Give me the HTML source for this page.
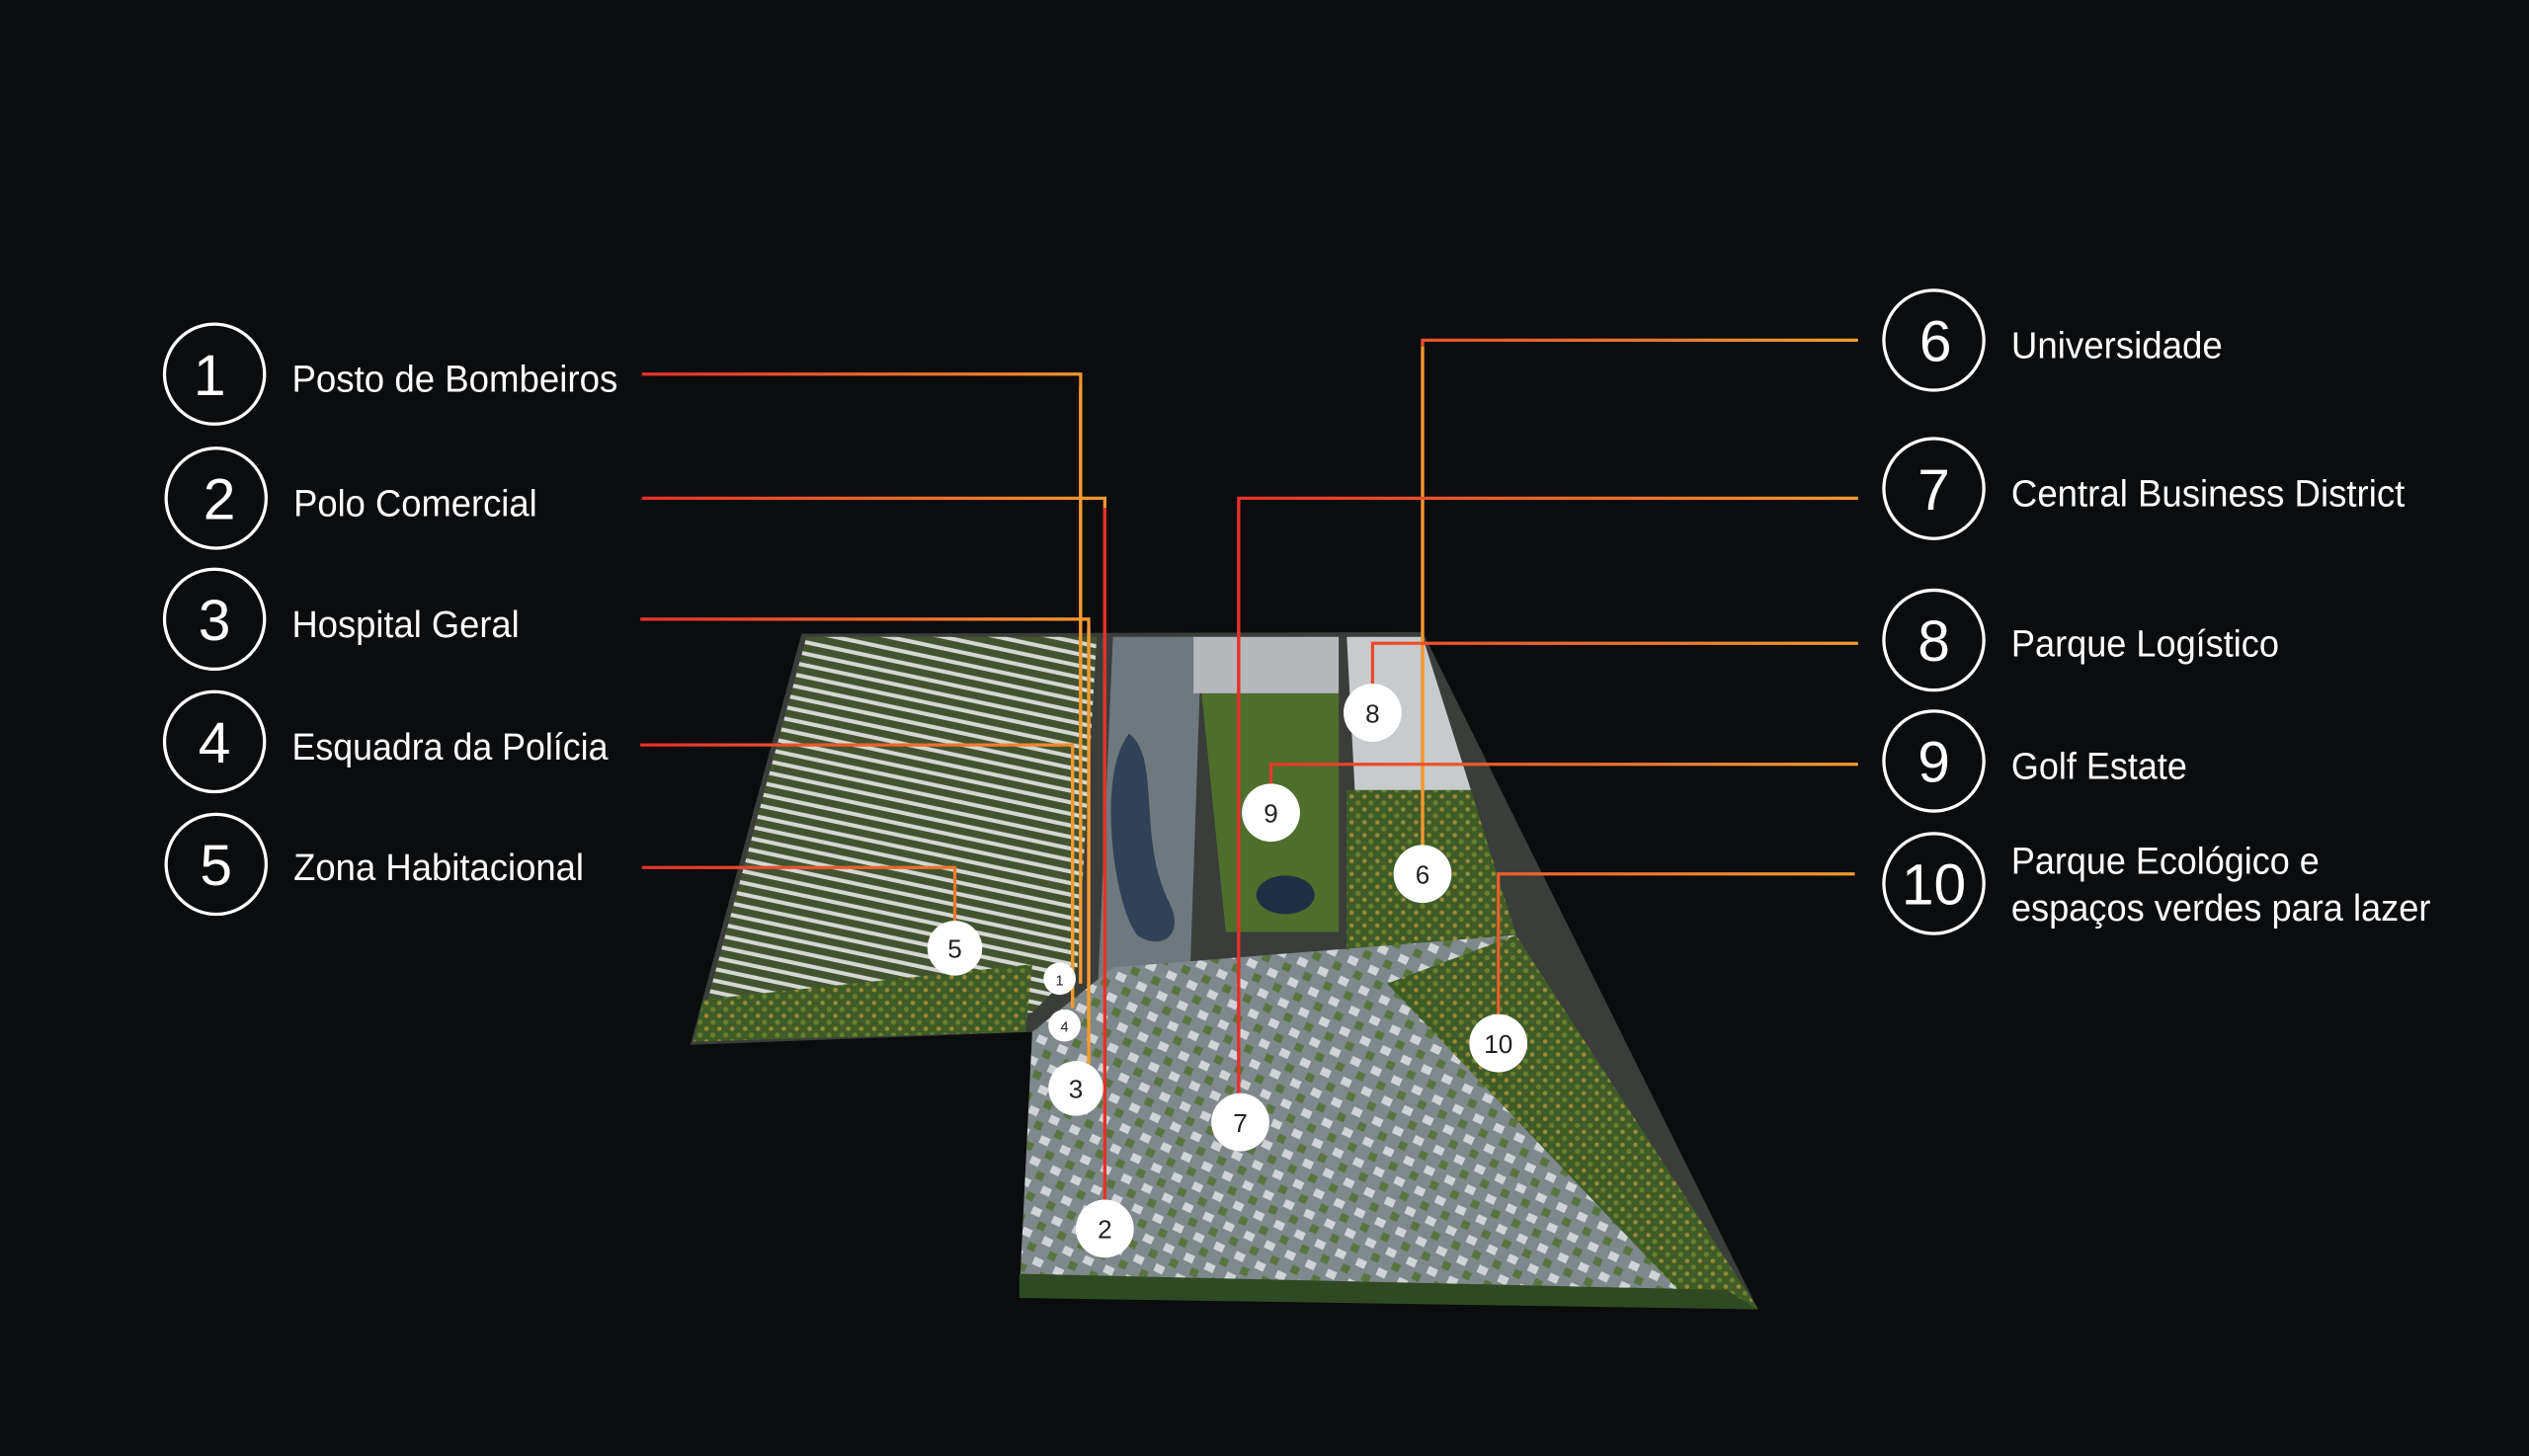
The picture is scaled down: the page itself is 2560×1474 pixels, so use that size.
<!DOCTYPE html>
<html><head><meta charset="utf-8"><style>
html,body{margin:0;padding:0;background:#0b0c0e;}
svg{display:block;}
text{font-family:"Liberation Sans",sans-serif;fill:#fff;}
</style></head><body>
<svg width="2560" height="1474" viewBox="0 0 1568 903" preserveAspectRatio="none" xmlns="http://www.w3.org/2000/svg">
<defs>
<linearGradient id="gl" gradientUnits="userSpaceOnUse" x1="398" y1="0" x2="690" y2="0"><stop offset="0" stop-color="#e5302b"/><stop offset="1" stop-color="#f29b2e"/></linearGradient>
<linearGradient id="gr" gradientUnits="userSpaceOnUse" x1="760" y1="0" x2="1152" y2="0"><stop offset="0" stop-color="#e5302b"/><stop offset="1" stop-color="#f29b2e"/></linearGradient>
<pattern id="res" width="7" height="7" patternUnits="userSpaceOnUse" patternTransform="rotate(-78)"><rect width="7" height="7" fill="#44532f"/><rect width="2.5" height="7" fill="#d5d7d3"/></pattern>
<pattern id="cbd" width="14" height="14" patternUnits="userSpaceOnUse" patternTransform="rotate(25)"><rect width="14" height="14" fill="#7f888c"/><rect x="1" y="1" width="6" height="5" fill="#d0d4d6"/><rect x="8" y="8" width="5" height="5" fill="#5a7440"/></pattern>
<pattern id="tree" width="8" height="8" patternUnits="userSpaceOnUse"><rect width="8" height="8" fill="#3f5c26"/><circle cx="2" cy="2" r="1.6" fill="#6b7f2e"/><circle cx="6" cy="6" r="1.4" fill="#9a8a3a"/></pattern>
</defs>
<polygon points="497,393 882,392 1090,812 632,803 640,640 428,648" fill="#3a3d3a"/>
<polygon points="500,395 680,395 668,600 640,628 432,645" fill="url(#res)"/>
<polygon points="436,620 640,598 636,640 430,646" fill="url(#tree)"/>
<polygon points="690,395 745,395 738,600 680,630" fill="#6f787e"/>
<path d="M700,455 C680,480 690,560 705,580 C720,590 735,580 725,560 C705,520 720,470 700,455Z" fill="#2f4258"/>
<polygon points="745,430 830,430 830,578 760,578" fill="#4e6e2c"/>
<ellipse cx="797" cy="555" rx="18" ry="12" fill="#1e2f45"/>
<polygon points="740,395 830,395 830,430 740,430" fill="#b5b9bb"/>
<polygon points="835,395 882,395 912,490 840,490" fill="#c8cbcd"/>
<polygon points="835,490 912,490 940,580 835,590" fill="url(#tree)"/>
<polygon points="690,600 940,580 880,610 1050,810 632,803 640,640" fill="url(#cbd)"/>
<polygon points="860,610 940,580 1090,812 1050,810" fill="url(#tree)"/>
<polygon points="632,790 1070,800 1090,812 632,805" fill="#2f4a22"/>
<g fill="none" stroke-width="2">
<path d="M398,232H670V610" stroke="url(#gl)"/>
<path d="M398,309H685V745" stroke="url(#gl)"/>
<path d="M397,384H675V660" stroke="url(#gl)"/>
<path d="M397,462H665V625" stroke="url(#gl)"/>
<path d="M398,538H592V575" stroke="url(#gl)"/>
<path d="M670,240V610" stroke="#f29b2e"/>
<path d="M675,390V660" stroke="#f29b2e"/>
<path d="M665,470V625" stroke="#f29b2e"/>
<path d="M685,315V745" stroke="#e5302b"/>
<path d="M1152,211H882V528" stroke="url(#gr)"/>
<path d="M882,215V528" stroke="#f29b2e"/>
<path d="M1152,309H768V680" stroke="url(#gr)"/>
<path d="M768,315V680" stroke="#e5302b"/>
<path d="M1152,399H851V428" stroke="url(#gr)"/>
<path d="M1152,474H788V490" stroke="url(#gr)"/>
<path d="M1150,542H929V632" stroke="url(#gr)"/>
</g>
<g fill="#fff">
<circle cx="592" cy="588" r="17"/><circle cx="657" cy="607" r="10"/><circle cx="660" cy="636" r="10"/>
<circle cx="667" cy="675" r="17"/><circle cx="685" cy="762" r="18"/><circle cx="769" cy="696" r="18"/>
<circle cx="851" cy="442" r="18"/><circle cx="788" cy="504" r="18"/><circle cx="882" cy="542" r="18"/><circle cx="929" cy="647" r="18"/>
</g>
<g style="font-size:16px" text-anchor="middle">
<text x="592" y="594" style="fill:#222">5</text>
<text x="667" y="681" style="fill:#222">3</text>
<text x="685" y="768" style="fill:#222">2</text>
<text x="769" y="702" style="fill:#222">7</text>
<text x="851" y="448" style="fill:#222">8</text>
<text x="788" y="510" style="fill:#222">9</text>
<text x="882" y="548" style="fill:#222">6</text>
<text x="929" y="653" style="fill:#222">10</text>
<text x="657" y="611" style="fill:#222;font-size:9px">1</text>
<text x="660" y="640" style="fill:#222;font-size:9px">4</text>
</g>
<g fill="none" stroke="#fff" stroke-width="2">
<circle cx="133" cy="232" r="31"/><circle cx="134" cy="309" r="31"/><circle cx="133" cy="384" r="31"/><circle cx="133" cy="460" r="31"/><circle cx="134" cy="536" r="31"/>
<circle cx="1199" cy="211" r="31"/><circle cx="1199" cy="303" r="31"/><circle cx="1199" cy="397" r="31"/><circle cx="1199" cy="472" r="31"/><circle cx="1199" cy="548" r="31"/>
</g>
<g style="font-size:36px" text-anchor="middle">
<text x="130" y="245">1</text><text x="136" y="322">2</text><text x="133" y="397">3</text><text x="133" y="473">4</text><text x="134" y="549">5</text>
<text x="1200" y="224">6</text><text x="1199" y="316">7</text><text x="1199" y="410">8</text><text x="1199" y="485">9</text><text x="1199" y="561">10</text>
</g>
<g style="font-size:23px" lengthAdjust="spacingAndGlyphs">
<text x="181" y="243" textLength="202" lengthAdjust="spacingAndGlyphs">Posto de Bombeiros</text>
<text x="182" y="320" textLength="151" lengthAdjust="spacingAndGlyphs">Polo Comercial</text>
<text x="181" y="395" textLength="141" lengthAdjust="spacingAndGlyphs">Hospital Geral</text>
<text x="181" y="471" textLength="196" lengthAdjust="spacingAndGlyphs">Esquadra da Polícia</text>
<text x="182" y="546" textLength="180" lengthAdjust="spacingAndGlyphs">Zona Habitacional</text>
<text x="1247" y="222" textLength="131" lengthAdjust="spacingAndGlyphs">Universidade</text>
<text x="1247" y="314" textLength="244" lengthAdjust="spacingAndGlyphs">Central Business District</text>
<text x="1247" y="407" textLength="166" lengthAdjust="spacingAndGlyphs">Parque Logístico</text>
<text x="1247" y="483" textLength="109" lengthAdjust="spacingAndGlyphs">Golf Estate</text>
<text x="1247" y="542" textLength="191" lengthAdjust="spacingAndGlyphs">Parque Ecológico e</text>
<text x="1247" y="571" textLength="260" lengthAdjust="spacingAndGlyphs">espaços verdes para lazer</text>
</g>
</svg>
</body></html>
